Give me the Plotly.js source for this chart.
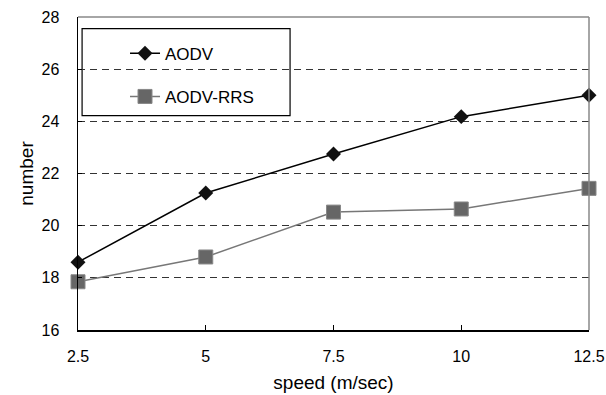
<!DOCTYPE html>
<html>
<head>
<meta charset="utf-8">
<script src="https://cdn.plot.ly/plotly-3.0.1.min.js"></script>
<style>html,body{margin:0;padding:0;background:#fff;}#chart{width:606px;height:395px;}</style>
</head>
<body>
<div id="chart"></div>
<script>
var speeds = [2.5, 5, 7.5, 10, 12.5];
var aodv = [18.6, 21.25, 22.75, 24.18, 25.0];
var aodvRrs = [17.85, 18.8, 20.52, 20.64, 21.43];
var xTickLabels = ['2.5', '5', '7.5', '10', '12.5'];
var yTicks = [16, 18, 20, 22, 24, 26, 28];

var font = 'Liberation Sans, Arial, sans-serif';

var traces = [
  {x: speeds, y: aodv, name: 'AODV', mode: 'lines+markers', legendgroup: 'a',
   line: {color: '#000', width: 1.5},
   marker: {symbol: 'diamond', size: 11.5, color: '#111', line: {width: 0}},
   cliponaxis: false},
  {x: speeds, y: aodvRrs, name: 'AODV-RRS', mode: 'lines+markers', legendgroup: 'b',
   line: {color: '#777', width: 1.5},
   marker: {symbol: 'square', size: 14, color: '#666', line: {width: 1, color: '#888'}},
   cliponaxis: false}
];

var layout = {
  width: 606, height: 395,
  margin: {l: 78, r: 17, t: 17, b: 65},
  paper_bgcolor: '#fff', plot_bgcolor: '#fff',
  font: {family: font, size: 16, color: '#000'},
  showlegend: true,
  legend: {x: 0.092, y: 0.94, xanchor: 'left', yanchor: 'top',
           bgcolor: 'rgba(0,0,0,0)', borderwidth: 0,
           font: {family: font, size: 17, color: '#000'},
           traceorder: 'grouped', tracegroupgap: 18},
  xaxis: {range: [2.5, 12.5], tickvals: speeds, ticktext: xTickLabels,
          ticks: 'inside', ticklen: 5, tickcolor: '#000',
          showline: true, linecolor: '#000', linewidth: 1.5,
          showgrid: false, zeroline: false, ticklabelstandoff: 11,
          title: {text: 'speed (m/sec)', font: {family: font, size: 19}, standoff: 12}},
  yaxis: {range: [16, 28], tickvals: yTicks,
          ticks: 'inside', ticklen: 4, tickcolor: '#000',
          showline: true, linecolor: '#000', linewidth: 1.5,
          showgrid: true, gridcolor: '#333', griddash: '7px,5px', gridwidth: 1,
          zeroline: false, ticklabelstandoff: 14,
          title: {text: 'number', font: {family: font, size: 19}, standoff: 3}},
  shapes: [
    {type: 'line', xref: 'paper', yref: 'paper', x0: 0, x1: 1, y0: 1, y1: 1,
     line: {color: '#888', width: 1.5}},
    {type: 'line', xref: 'paper', yref: 'paper', x0: 1, x1: 1, y0: 0, y1: 1,
     line: {color: '#888', width: 1.5}},
    {type: 'rect', xref: 'paper', yref: 'paper', x0: 0.008, x1: 0.415, y0: 0.685, y1: 0.963,
     fillcolor: '#fff', line: {color: '#000', width: 1.2}, layer: 'below'}
  ]
};

Plotly.newPlot('chart', traces, layout, {displayModeBar: false, staticPlot: true});
</script>
</body>
</html>
